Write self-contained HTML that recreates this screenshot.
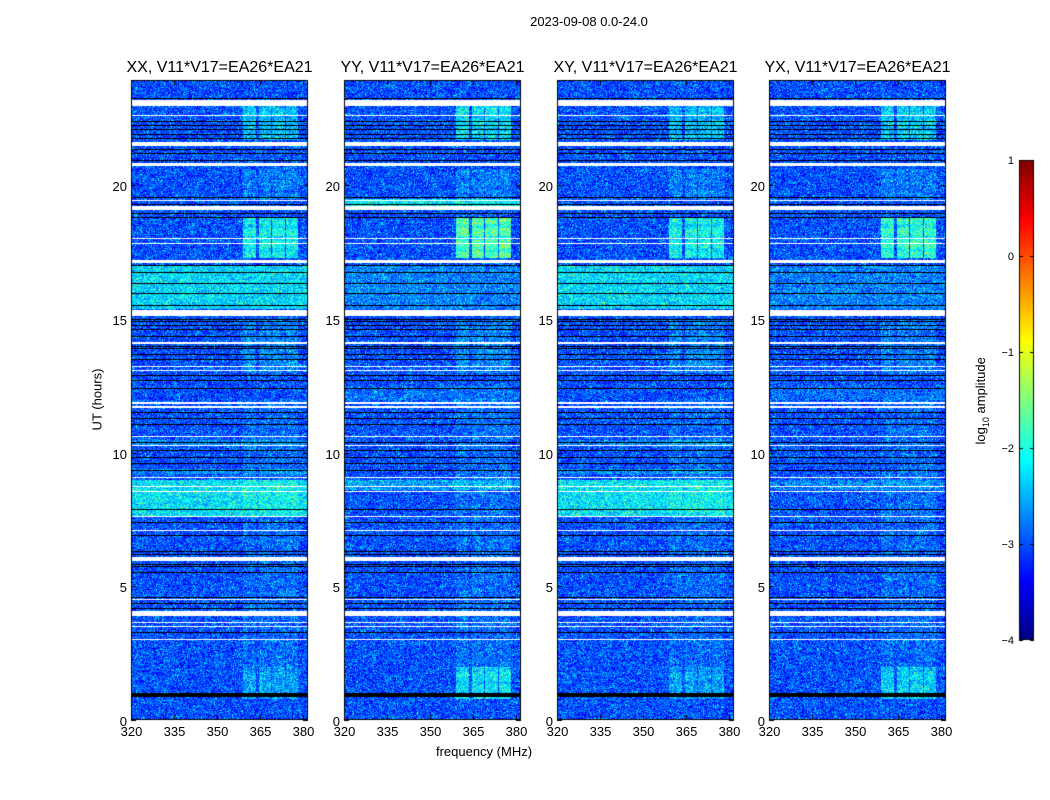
<!DOCTYPE html>
<html><head><meta charset="utf-8">
<style>
body{margin:0;background:#fff;width:1050px;height:800px;overflow:hidden;font-family:"Liberation Sans",sans-serif}
#wrap{position:relative;width:1050px;height:800px}
canvas{position:absolute;left:0;top:0}
.t{position:absolute;color:#000;white-space:nowrap}
</style></head><body>
<div id="wrap">
<canvas id="cv" width="1050" height="800"></canvas>
</div>
<script>
// ---- data ----
const panelTitles=["XX, V11*V17=EA26*EA21","YY, V11*V17=EA26*EA21","XY, V11*V17=EA26*EA21","YX, V11*V17=EA26*EA21"];
const panelLefts=[131,344,557,769];
const freqTicks=[320,335,350,365,380];
const hourTicks=[0,5,10,15,20];
const cbTicks=[1,0,-1,-2,-3,-4];
// flagged (white) hour ranges
const whiteFlags=[[22.96,23.18],[22.55,22.6],[21.46,21.61],[20.71,20.82],[19.07,19.21],[19.4,19.45],[17.98,18.03],[17.78,17.83],[17.08,17.2],[15.1,15.33],[14.08,14.14],[13.18,13.22],[13.06,13.1],[11.84,11.9],[11.66,11.72],[10.55,10.6],[10.22,10.27],[9.04,9.09],[8.7,8.75],[8.5,8.55],[7.58,7.62],[7.08,7.12],[5.95,6.1],[4.48,4.53],[3.9,4.07],[3.62,3.67],[3.48,3.52],[2.98,3.02]];
// black lines (hours)
const blackLines=[23.25,22.4,22.25,22.1,21.9,21.75,21.35,21.2,20.92,19.55,19.3,18.95,18.8,17.0,16.75,16.35,15.95,15.5,15.0,14.9,14.75,14.6,14.35,14.0,13.9,13.7,13.5,12.9,12.7,12.4,11.5,11.3,11.05,10.4,10.1,9.85,9.6,9.35,7.9,7.4,6.9,6.3,6.2,5.85,5.75,5.55,4.6,4.38,4.2,3.3,1.0,0.95,0.9];
// broadband brightness [h0,h1,level] per panel (XX,YY,XY,YX)
const bandRows=[
 [[15.4,17.0,0.7],[7.6,9.0,0.75],[9.2,9.4,0.3],[10.3,10.5,0.3]],
 [[15.4,17.0,0.25],[19.2,19.5,0.8],[8.6,9.0,0.4],[12.0,12.5,0.15]],
 [[15.4,17.0,0.7],[7.6,9.0,0.75],[9.2,9.4,0.3],[10.3,10.5,0.3]],
 [[15.4,17.0,0.25],[8.6,9.0,0.25],[12.0,12.5,0.15]]];
// spectral blocks (MHz) and time ranges with level per panel
const specBlocks=[[359,363.5],[364.3,368.5],[369,373.5],[374,378]];
const specTimes=[[17.3,18.8],[21.7,23.0],[0.8,2.0],[13.0,15.0],[2.0,12.0],[19.5,20.6]];
const specLevel=[[0.9,0.6,0.45,0.3,0.15,0.25],[1.3,0.8,0.8,0.3,0.18,0.25],[0.9,0.6,0.45,0.3,0.15,0.25],[1.1,0.7,0.7,0.25,0.15,0.25]];

const PT=80,PB=720,PW=177,F0=320,FPX=2.87,HPX=26.75;
const yOf=h=>PB-h*HPX, hOf=y=>(PB-y)/HPX, fOf=x=>F0+x/FPX;
const cv=document.getElementById('cv'),ctx=cv.getContext('2d');
function jet(t){t=Math.max(0,Math.min(1,t));const c=v=>Math.round(255*Math.max(0,Math.min(1,v)));
 return [c(1.5-Math.abs(4*t-3)),c(1.5-Math.abs(4*t-2)),c(1.5-Math.abs(4*t-1))];}
function hash(x,y){let n=x*374761393+y*668265263;n=(n^(n>>13))*1274126177;return ((n^(n>>16))&0xffff)/65535;}
ctx.fillStyle='#fff';ctx.fillRect(0,0,1050,800);
const wrap=document.getElementById('wrap');
function txt(s,x,y,size,align,name,extra){const d=document.createElement('div');d.className='t';d.textContent=s;d.style.fontSize=size+'px';
 d.style.top=(y-size*0.6+3)+'px';
 if(align==='c'){d.style.left=x+'px';d.style.transform='translateX(-50%)';}
 else if(align==='r'){d.style.right=(1050-x)+'px';}else d.style.left=x+'px';
 if(extra)Object.assign(d.style,extra);
 
 
 wrap.appendChild(d);return d;}
panelLefts.forEach((L,p)=>{
 const img=ctx.createImageData(PW,PB-PT);
 for(let j=0;j<PB-PT;j++){const h=hOf(PT+j);
  let base=-3.0;
  bandRows[p].forEach(b=>{if(h>=b[0]&&h<=b[1])base+=b[2];});
  for(let i=0;i<PW;i++){const f=fOf(i);let v=base;
   specBlocks.forEach(sb=>{if(f>=sb[0]&&f<=sb[1])specTimes.forEach((st,k)=>{if(h>=st[0]&&h<=st[1])v+=specLevel[p][k]*((j>>2)%3?1:0.8);});});
   const n=hash(i+p*1000,j);
   v+=(n-0.5)*1.0+(n>0.93?0.35:0)+(hash(i>>2,(j>>1)+p*77)-0.5)*0.25;
   const [r,g,b]=jet((v+4)/5);const o=(j*PW+i)*4;img.data[o]=r;img.data[o+1]=g;img.data[o+2]=b;img.data[o+3]=255;}}
 ctx.putImageData(img,L,PT);
 ctx.fillStyle='#000';blackLines.forEach(h=>ctx.fillRect(L,Math.round(yOf(h)),PW,1));
 ctx.fillRect(L,Math.round(yOf(1.0)),PW,3);
 ctx.fillStyle='#fff';whiteFlags.forEach(w=>{const y0=yOf(w[1]),y1=yOf(w[0]);ctx.fillRect(L,Math.round(y0),PW,Math.max(1,Math.round(y1-y0)));});
 ctx.strokeStyle='#000';ctx.lineWidth=1;ctx.strokeRect(L+0.5,PT+0.5,PW-1,PB-PT-1);
 freqTicks.forEach(f=>{const x=Math.round(L+(f-F0)*FPX)+0.5;ctx.beginPath();ctx.moveTo(x,PB);ctx.lineTo(x,PB-5);ctx.moveTo(x,PT);ctx.lineTo(x,PT+5);ctx.stroke();
  txt(String(f),x,PB+9,13,'c','x-tick-label');});
 hourTicks.forEach(h=>{const y=Math.round(yOf(h))+0.5;ctx.beginPath();ctx.moveTo(L,y);ctx.lineTo(L+5,y);ctx.moveTo(L+PW,y);ctx.lineTo(L+PW-5,y);ctx.stroke();
  txt(String(h),L-4,y-2,13,'r','y-tick-label');});
 txt(panelTitles[p],L+PW/2,66,16,'c','panel-title');
});
// colorbar
const CL=1019,CW=15,CT=160,CB=640;
for(let y=CT;y<CB;y++){const [r,g,b]=jet(1-(y-CT)/(CB-CT));ctx.fillStyle=`rgb(${r},${g},${b})`;ctx.fillRect(CL,y,CW,1);}
ctx.strokeStyle='#000';ctx.strokeRect(CL+0.5,CT+0.5,CW-1,CB-CT-1);
cbTicks.forEach(v=>{const y=Math.round(CB-(v+4)/5*(CB-CT))+0.5;ctx.beginPath();ctx.moveTo(CL,y);ctx.lineTo(CL+4,y);ctx.moveTo(CL+CW,y);ctx.lineTo(CL+CW-4,y);ctx.stroke();
 txt(v<0?'\u2212'+(-v):String(v),CL-5,y-2,11,'r','colorbar-tick-label');});
txt('2023-09-08 0.0-24.0',589,19,13,'c','figure-title');
txt('frequency (MHz)',484,749,13,'c','x-axis-title');
txt('UT (hours)',97,397,13,'c','y-axis-title',{transform:'translate(-50%,0) rotate(-90deg)'});
const cl=txt('',982,397,13,'c','colorbar-label',{transform:'translate(-50%,0) rotate(-90deg)'});
cl.innerHTML='log<sub style="font-size:9px">10</sub> amplitude';
</script>
</body></html>
